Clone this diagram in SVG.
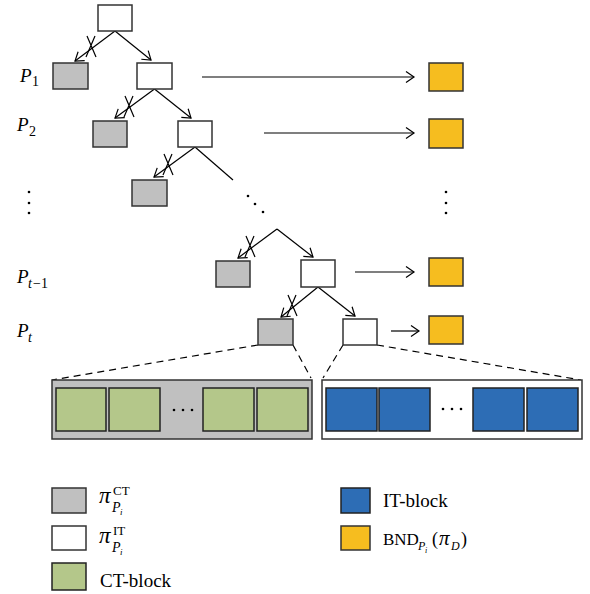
<svg xmlns="http://www.w3.org/2000/svg" width="590" height="594" viewBox="0 0 590 594">
<style>
.w{fill:#fff;stroke:#333;stroke-width:1.5}
.g{fill:#c0c0c0;stroke:#333;stroke-width:1.5}
.y{fill:#f6bd1f;stroke:#333;stroke-width:1.5}
.gr{fill:#b4c78a;stroke:#222;stroke-width:1.5}
.b{fill:#2d6db5;stroke:#222;stroke-width:1.5}
.ln{stroke:#000;stroke-width:1.2;fill:none}
.ar{stroke:#000;stroke-width:1.2;fill:none;marker-end:url(#ah)}
.ds{stroke:#000;stroke-width:1.2;fill:none;stroke-dasharray:7,5}
.t{font-family:"Liberation Serif","Times New Roman",serif;fill:#000}
.i{font-style:italic}
</style>
<defs>
<marker id="ah" markerWidth="12" markerHeight="14" refX="10" refY="7" orient="auto" markerUnits="userSpaceOnUse">
<path d="M2,1.5 L10,7 L2,12.5" fill="none" stroke="#000" stroke-width="1.2"/>
</marker>
</defs>

<g id="connectors">
<line class="ar" x1="115" y1="31" x2="75" y2="61"/>
<line class="ar" x1="115" y1="31" x2="151" y2="60"/>
<line class="ar" x1="154.5" y1="89" x2="115" y2="118"/>
<line class="ar" x1="154.5" y1="89" x2="191" y2="118"/>
<line class="ar" x1="195" y1="147" x2="154" y2="177"/>
<line class="ln" x1="195" y1="147" x2="233" y2="180"/>
<line class="ar" x1="277" y1="229" x2="238" y2="258"/>
<line class="ar" x1="277" y1="229" x2="313" y2="257"/>
<line class="ar" x1="318" y1="287" x2="281" y2="317"/>
<line class="ar" x1="318" y1="287" x2="355" y2="316"/>
<line class="ar" x1="202" y1="77" x2="414" y2="77"/>
<line class="ar" x1="264" y1="133" x2="414" y2="133"/>
<line class="ar" x1="355" y1="272" x2="414" y2="272"/>
<line class="ar" x1="391" y1="331" x2="419" y2="331"/>
<!-- cuts -->
<path class="ln" d="M87,36 L96,57 M95,36 L86,57"/>
<path class="ln" d="M125,96 L134,117 M133,96 L124,117"/>
<path class="ln" d="M164,154 L173,175 M172,154 L163,175"/>
<path class="ln" d="M246,236 L255,257 M254,236 L245,257"/>
<path class="ln" d="M288,295 L297,316 M296,295 L287,316"/>
<!-- dashed zoom lines -->
<line class="ds" x1="258" y1="345" x2="52" y2="380"/>
<line class="ds" x1="293" y1="345" x2="311" y2="378"/>
<line class="ds" x1="343" y1="345" x2="323" y2="378"/>
<line class="ds" x1="377" y1="345" x2="581" y2="380"/>
</g>

<g id="root"><rect class="w" x="98" y="5" width="34" height="26"/></g>
<g id="ct1"><rect class="g" x="53" y="63" width="35" height="26"/></g>
<g id="it1"><rect class="w" x="137" y="63" width="35" height="26"/></g>
<g id="bnd1"><rect class="y" x="429" y="63" width="34" height="28"/></g>
<g id="ct2"><rect class="g" x="93" y="121" width="34" height="26"/></g>
<g id="it2"><rect class="w" x="178" y="121" width="34" height="26"/></g>
<g id="bnd2"><rect class="y" x="429" y="119" width="34" height="29"/></g>
<g id="ct3"><rect class="g" x="132" y="180" width="35" height="26"/></g>
<g id="ctt1"><rect class="g" x="216" y="261" width="34" height="26"/></g>
<g id="itt1"><rect class="w" x="301" y="260" width="34" height="27"/></g>
<g id="bndt1"><rect class="y" x="429" y="258" width="34" height="28"/></g>
<g id="ctt"><rect class="g" x="258" y="319" width="35" height="26"/></g>
<g id="itt"><rect class="w" x="343" y="319" width="34" height="26"/></g>
<g id="bndt"><rect class="y" x="429" y="316" width="34" height="28"/></g>

<g id="ct-container">
<rect class="g" x="52" y="380" width="260" height="59"/>
<rect class="gr" x="56" y="388" width="50" height="43"/>
<rect class="gr" x="109" y="388" width="51" height="43"/>
<rect class="gr" x="203" y="388" width="51" height="43"/>
<rect class="gr" x="257" y="388" width="51" height="43"/>
<circle cx="174" cy="410" r="1.3"/><circle cx="183" cy="410" r="1.3"/><circle cx="192" cy="410" r="1.3"/>
</g>
<g id="it-container">
<rect class="w" x="322" y="380" width="260" height="59"/>
<rect class="b" x="326" y="388" width="51" height="43"/>
<rect class="b" x="379" y="388" width="51" height="43"/>
<rect class="b" x="473" y="388" width="51" height="43"/>
<rect class="b" x="527" y="388" width="51" height="43"/>
<circle cx="443" cy="409" r="1.3"/><circle cx="452" cy="409" r="1.3"/><circle cx="461" cy="409" r="1.3"/>
</g>

<g id="dots">
<circle cx="29" cy="192" r="1.3"/><circle cx="29" cy="203" r="1.3"/><circle cx="29" cy="213" r="1.3"/>
<circle cx="248" cy="196" r="1.3"/><circle cx="255" cy="204" r="1.3"/><circle cx="263" cy="212" r="1.3"/>
<circle cx="446" cy="192" r="1.3"/><circle cx="446" cy="203" r="1.3"/><circle cx="446" cy="213" r="1.3"/>
</g>

<g id="labels">
<text class="t i" x="20" y="82" font-size="19">P</text><text class="t" x="32" y="86" font-size="14">1</text>
<text class="t i" x="17" y="131" font-size="19">P</text><text class="t" x="29" y="136" font-size="14">2</text>
<text class="t i" x="17" y="283" font-size="19">P</text><text class="t i" x="28" y="288" font-size="14">t</text><text class="t" x="33" y="288" font-size="14">−1</text>
<text class="t i" x="17" y="337" font-size="19">P</text><text class="t i" x="28" y="342" font-size="14">t</text>
</g>

<g id="legend-ct">
<rect class="g" x="52" y="488" width="34" height="25"/>
<text class="t i" x="99" y="503" font-size="23">π</text>
<text class="t" x="113" y="495" font-size="13">CT</text>
<text class="t i" x="112" y="512" font-size="14">P</text>
<text class="t i" x="120" y="515" font-size="9">i</text>
</g>
<g id="legend-it">
<rect class="w" x="52" y="526" width="34" height="24"/>
<text class="t i" x="99" y="543" font-size="23">π</text>
<text class="t" x="113" y="535" font-size="13">IT</text>
<text class="t i" x="112" y="552" font-size="14">P</text>
<text class="t i" x="120" y="555" font-size="9">i</text>
</g>
<g id="legend-ctblock">
<rect class="gr" x="52" y="563" width="34" height="27"/>
<text class="t" x="100" y="587" font-size="19">CT-block</text>
</g>
<g id="legend-itblock">
<rect class="b" x="341" y="488" width="29" height="25"/>
<text class="t" x="383" y="507" font-size="19">IT-block</text>
</g>
<g id="legend-bnd">
<rect class="y" x="341" y="526" width="29" height="24"/>
<text class="t" x="383" y="545" font-size="17">BND</text>
<text class="t i" x="418" y="550" font-size="12">P</text>
<text class="t i" x="425" y="553" font-size="8">i</text>
<text class="t" x="432" y="545" font-size="18">(</text>
<text class="t i" x="439" y="545" font-size="21">π</text>
<text class="t i" x="451" y="550" font-size="12">D</text>
<text class="t" x="461" y="545" font-size="18">)</text>
</g>
</svg>
